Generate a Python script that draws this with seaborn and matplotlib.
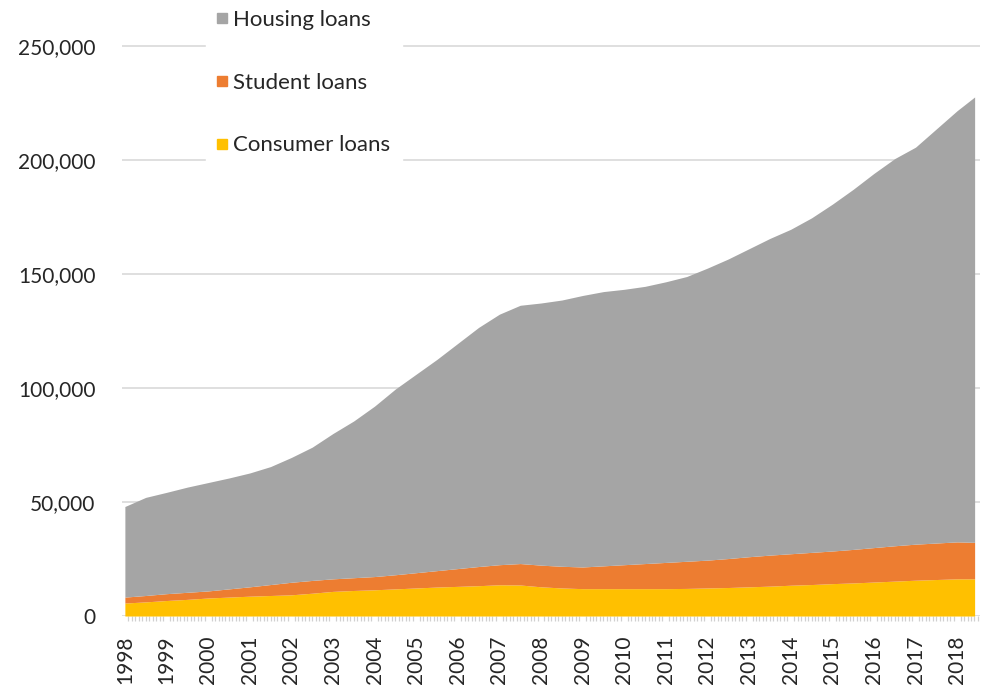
import matplotlib
matplotlib.use("Agg")
import matplotlib.pyplot as plt
from matplotlib.lines import Line2D
from matplotlib.ticker import FuncFormatter, MultipleLocator
import seaborn as sns
import pandas as pd

period = [1998.0, 1998.5, 1999.0, 1999.5, 2000.0, 2000.5, 2001.0, 2001.5,
          2002.0, 2002.5, 2003.0, 2003.5, 2004.0, 2004.5, 2005.0, 2005.5,
          2006.0, 2006.5, 2007.0, 2007.5, 2008.0, 2008.5, 2009.0, 2009.5,
          2010.0, 2010.5, 2011.0, 2011.5, 2012.0, 2012.5, 2013.0, 2013.5,
          2014.0, 2014.5, 2015.0, 2015.5, 2016.0, 2016.5, 2017.0, 2017.5,
          2018.0, 2018.42]

consumer_loans = [5700, 6200, 6800, 7300, 7900, 8300, 8700, 9000,
                  9300, 10000, 10800, 11200, 11500, 11900, 12300, 12700,
                  13000, 13300, 13700, 13600, 12800, 12300, 12000, 12000,
                  12000, 12000, 12000, 12100, 12300, 12500, 12800, 13100,
                  13500, 13800, 14200, 14500, 14900, 15300, 15700, 16000,
                  16300, 16300]

student_loans = [2600, 2800, 3000, 3100, 3100, 3600, 4100, 4800,
                 5500, 5600, 5500, 5600, 5800, 6200, 6700, 7200,
                 7800, 8400, 8800, 9400, 9500, 9500, 9500, 10000,
                 10500, 11000, 11500, 11900, 12200, 12700, 13200, 13600,
                 13800, 14100, 14300, 14700, 15100, 15500, 15800, 16000,
                 16200, 16000]

housing_loans = [39700, 43000, 44400, 46100, 47500, 48600, 49900, 51700,
                 54700, 58400, 63700, 68700, 74700, 81400, 87000, 92600,
                 98700, 104800, 109800, 113200, 114900, 116700, 119000, 120200,
                 120700, 121500, 123000, 124800, 128000, 131300, 135000, 138800,
                 142200, 146600, 152000, 157800, 164000, 169700, 174000, 181500,
                 189000, 195200]

series_names = ["Consumer loans", "Student loans", "Housing loans"]
series_colors = ["#FFC000", "#ED7D31", "#A5A5A5"]
year_labels = [str(y) for y in range(1998, 2019)]
y_ticks = [0, 50000, 100000, 150000, 200000, 250000]

df = pd.DataFrame({"period": period,
                   "Consumer loans": consumer_loans,
                   "Student loans": student_loans,
                   "Housing loans": housing_loans})

sns.set_theme(style="white")
plt.rcParams["font.family"] = ["Lato", "DejaVu Sans"]

fig = plt.figure(figsize=(9.82, 6.96), dpi=100)
ax = fig.add_axes([0.1242, 0.1149, 0.8738, 0.8851])

ax.stackplot(df["period"], [df[n] for n in series_names],
             colors=series_colors, linewidth=0, zorder=2)

ax.set_xlim(1997.93, 2018.55)
ax.set_ylim(0, 270000)
ax.set_yticks(y_ticks)
ax.yaxis.set_major_formatter(FuncFormatter(lambda v, p: f"{int(v):,}"))
ax.grid(axis="y", color="#D9D9D9", linewidth=1.2, zorder=0)
ax.grid(axis="x", visible=False)
ax.set_axisbelow(True)

ax.set_xticks([int(y) for y in year_labels])
ax.set_xticklabels(year_labels, rotation=90)
ax.xaxis.set_minor_locator(MultipleLocator(1 / 12))
ax.tick_params(axis="x", which="major", length=0, pad=14, labelsize=15, colors="#262626")
ax.tick_params(axis="x", which="minor", bottom=True, length=3.5, width=0.9, color="#D0D0D0")
ax.tick_params(axis="y", length=0, pad=19, labelsize=15, colors="#262626")
for s in ax.spines.values():
    s.set_visible(False)

handles = [Line2D([0], [0], marker="s", linestyle="none", markersize=7,
                  markerfacecolor=c, markeredgecolor=c)
           for c in series_colors[::-1]]
leg = fig.legend(handles, series_names[::-1], loc="upper left",
                 bbox_to_anchor=(0.198, 1.018), frameon=True, facecolor="white",
                 edgecolor="white", framealpha=1, fontsize=16,
                 labelspacing=1.93, handlelength=0.45, handletextpad=0.3,
                 borderpad=0.5)
for t in leg.get_texts():
    t.set_color("#262626")

fig.savefig("out.png", dpi=100)
